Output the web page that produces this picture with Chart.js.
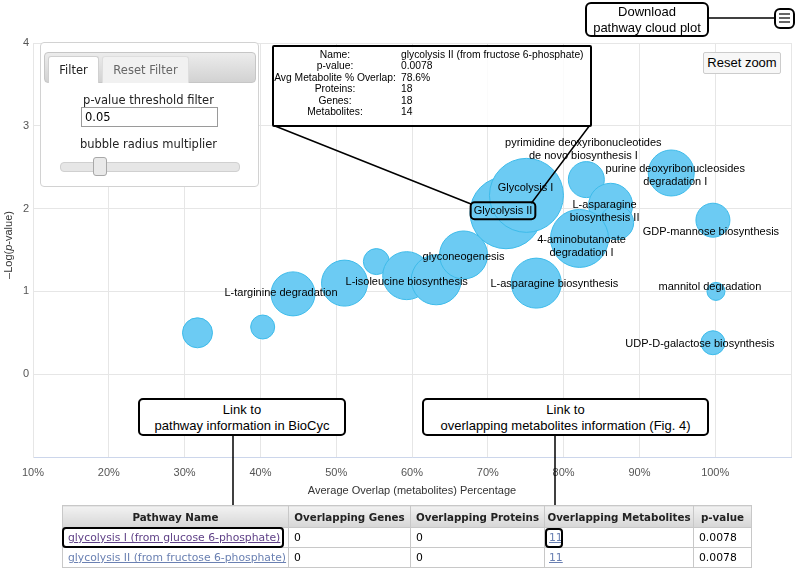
<!DOCTYPE html>
<html>
<head>
<meta charset="utf-8">
<script src="https://cdn.jsdelivr.net/npm/chart.js@4.4.1/dist/chart.umd.min.js"></script>
<style>
html,body{margin:0;padding:0;background:#fff;}
#wrap{position:relative;width:800px;height:570px;overflow:hidden;font-family:'Liberation Sans',Arial,sans-serif;}
#c{position:absolute;left:0;top:0;}
.abs{position:absolute;box-sizing:border-box;}
.dv{font-family:'DejaVu Sans',Verdana,sans-serif;font-size:11.5px;}
.tab{line-height:26px;text-align:center;}
.call{border:2px solid #000;border-radius:6px;background:#fff;text-align:center;font-size:13px;line-height:16px;color:#000;}
#tip table{border-collapse:collapse;font-size:10.3px;line-height:11.4px;margin-top:2px;}
#tip td{padding:0;white-space:nowrap;}
#tip td.k{width:122px;text-align:center;}
#tip td.v{padding-left:5px;}
#tbl{position:absolute;left:62px;top:505px;width:689px;border-collapse:collapse;table-layout:fixed;font-family:'DejaVu Sans',Verdana,sans-serif;font-size:10.8px;color:#000;}
#tbl th,#tbl td{border:1px solid #c8c8c8;padding:0 0 0 5px;white-space:nowrap;overflow:hidden;text-align:left;}
#tbl th{height:21px;background:linear-gradient(#f2f2f2,#d6d6d6);font-size:10.3px;font-weight:bold;text-align:center;padding:0;color:#222;}
#tbl td{height:19px;background:#fff;}
.l1{color:#5e3f86;text-decoration:underline;}
.l2{color:#6a80b2;text-decoration:underline;}
.hl{border:2px solid #000;border-radius:4px;}
</style>
</head>
<body>
<div id="wrap">
<canvas id="c" width="800" height="570"></canvas>

<!-- filter panel -->
<div class="abs" style="left:40px;top:42px;width:219px;height:145px;border:1px solid #d2d2d2;border-radius:4px;background:#fff;"></div>
<div class="abs" style="left:44px;top:52px;width:212px;height:31px;border:1px solid #c6c6c6;border-radius:4px;background:linear-gradient(#ececec,#d2d2d2);"></div>
<div class="abs tab dv" style="left:48px;top:56px;width:51px;height:27px;background:#fff;border:1px solid #d0d0d0;border-bottom:none;border-radius:3px 3px 0 0;color:#222;">Filter</div>
<div class="abs tab dv" style="left:102px;top:56px;width:87px;height:27px;background:#f1f1f1;border:1px solid #dedede;border-bottom:none;border-radius:3px 3px 0 0;color:#666;">Reset Filter</div>
<div class="abs dv" style="left:40px;top:93px;width:217px;text-align:center;color:#222;">p-value threshold filter</div>
<div class="abs dv" style="left:81px;top:107px;width:137px;height:20px;border:1px solid #9a9a9a;padding-left:3px;line-height:18px;color:#000;">0.05</div>
<div class="abs dv" style="left:40px;top:137px;width:217px;text-align:center;color:#222;">bubble radius multiplier</div>
<div class="abs" style="left:60px;top:162px;width:180px;height:10px;border:1px solid #d0d0d0;border-radius:4px;background:#e6e6e6;"></div>
<div class="abs" style="left:93px;top:157px;width:14px;height:19px;border:1px solid #a8a8a8;border-radius:3px;background:#e9e9e9;"></div>

<!-- tooltip -->
<div class="abs" id="tip" style="left:272px;top:45px;width:320px;height:82px;border:2px solid #000;border-radius:2px;background:rgba(255,255,255,0.82);">
<table>
<tr><td class="k">Name:</td><td class="v">glycolysis II (from fructose 6-phosphate)</td></tr>
<tr><td class="k">p-value:</td><td class="v">0.0078</td></tr>
<tr><td class="k">Avg Metabolite % Overlap:</td><td class="v">78.6%</td></tr>
<tr><td class="k">Proteins:</td><td class="v">18</td></tr>
<tr><td class="k">Genes:</td><td class="v">18</td></tr>
<tr><td class="k">Metabolites:</td><td class="v">14</td></tr>
</table>
</div>

<!-- reset zoom -->
<div class="abs" style="left:703px;top:52px;width:78px;height:22px;border:1px solid #cccccc;border-radius:2px;background:#f7f7f7;font-size:13px;line-height:20px;text-align:center;color:#000;">Reset zoom</div>

<!-- callout connectors -->
<svg class="abs" width="800" height="570" style="left:0;top:0;pointer-events:none;">
<line x1="708" y1="18" x2="775" y2="18" stroke="#000" stroke-width="1.5"/>
<line x1="233" y1="436" x2="233" y2="527" stroke="#000" stroke-width="1.5"/>
<line x1="555" y1="436" x2="555" y2="528" stroke="#000" stroke-width="1.5"/>
</svg>
<div class="abs call" style="left:585px;top:2px;width:124px;height:35px;">Download<br>pathway cloud plot</div>
<div class="abs" style="left:774px;top:8px;width:21px;height:21px;border:2px solid #000;border-radius:6px;background:#fff;"></div>
<div class="abs" style="left:779px;top:13px;width:11px;height:2px;background:#666;"></div>
<div class="abs" style="left:779px;top:17px;width:11px;height:2px;background:#666;"></div>
<div class="abs" style="left:779px;top:21px;width:11px;height:2px;background:#666;"></div>

<!-- link callouts -->
<div class="abs call" style="left:138px;top:398px;width:208px;height:38px;padding-top:2px;border-radius:5px;">Link to<br>pathway information in BioCyc</div>
<div class="abs call" style="left:422px;top:398px;width:287px;height:38px;padding-top:2px;border-radius:5px;">Link to<br>overlapping metabolites information (Fig. 4)</div>

<!-- table -->
<table id="tbl">
<colgroup><col style="width:226px"><col style="width:122px"><col style="width:134px"><col style="width:149px"><col style="width:58px"></colgroup>
<tr><th>Pathway Name</th><th>Overlapping Genes</th><th>Overlapping Proteins</th><th>Overlapping Metabolites</th><th>p-value</th></tr>
<tr><td><span class="l1">glycolysis I (from glucose 6-phosphate)</span></td><td>0</td><td>0</td><td style="padding-left:4px"><span class="l2">11</span></td><td>0.0078</td></tr>
<tr><td><span class="l2">glycolysis II (from fructose 6-phosphate)</span></td><td>0</td><td>0</td><td style="padding-left:4px"><span class="l2">11</span></td><td>0.0078</td></tr>
</table>
<div class="abs hl" style="left:62px;top:527px;width:222px;height:21px;"></div>
<div class="abs hl" style="left:545px;top:528px;width:18px;height:20px;"></div>
</div>

<script>
// ---- data ----
const overlapPct = [31.7, 40.3, 44.3, 51.1, 55.3, 59.3, 63.2, 66.8, 76.4, 72.4, 75.1, 83.0, 86.2, 87.0, 82.1, 94.2, 99.7, 100.1, 99.7];
const negLogP    = [0.50, 0.57, 0.97, 1.10, 1.36, 1.19, 1.14, 1.44, 1.10, 1.95, 2.16, 2.35, 2.04, 1.83, 1.64, 2.43, 1.86, 1.00, 0.38];
const bubbleSize = [15, 12, 22, 23, 13, 24, 25, 24, 25, 36, 37, 18, 22, 17, 29, 23, 17, 9, 12];
const pathwayLabels = [
  '', '', 'L-targinine degradation', '', '', 'L-isoleucine biosynthesis', '', 'glyconeogenesis',
  'L-asparagine biosynthesis', 'Glycolysis II', 'Glycolysis I',
  'pyrimidine deoxyribonucleotides\nde novo biosynthesis I', 'L-asparagine\nbiosynthesis II', '',
  '4-aminobutanoate\ndegradation I', 'purine deoxyribonucleosides\ndegradation I',
  'GDP-mannose biosynthesis', 'mannitol degradation', 'UDP-D-galactose biosynthesis'
];
const xTickValues = [10, 20, 30, 40, 50, 60, 70, 80, 90, 100];
const yTickValues = [0, 1, 2, 3, 4];
const highlighted = 'Glycolysis II';

// ---- label layout (pixel nudges, not data) ----
const labelNudge = {2:[-12,-1],5:[0,6],7:[0,2],8:[18,1],9:[-3,-2],10:[-1,-7],11:[-3,-30],12:[-6,6.5],14:[2,8],15:[4,2],16:[-2,12],17:[-6,-4],18:[-13,1]};
const FONT = "'Liberation Sans', Arial, sans-serif";
Chart.defaults.font.family = FONT;

const labelPlugin = {
  id: 'bubbleLabels',
  afterDatasetsDraw(chart) {
    const ctx = chart.ctx;
    const meta = chart.getDatasetMeta(0);
    ctx.save();
    ctx.font = '11px ' + FONT;
    ctx.fillStyle = '#000';
    ctx.textAlign = 'center';
    ctx.textBaseline = 'middle';
    let box = null;
    pathwayLabels.forEach((txt, i) => {
      if (!txt) return;
      const el = meta.data[i];
      const n = labelNudge[i] || [0, 0];
      const cx = el.x + n[0], cy = el.y + n[1];
      const lines = txt.split('\n');
      lines.forEach((ln, k) => ctx.fillText(ln, cx, cy + (k - (lines.length - 1) / 2) * 13));
      if (txt === highlighted) {
        const w = ctx.measureText(txt).width + 6;
        box = {x0: cx - w / 2, x1: cx + w / 2, y0: cy - 8.5, y1: cy + 8.5};
      }
    });
    if (box) {
      ctx.lineWidth = 2;
      ctx.strokeStyle = '#000';
      ctx.beginPath();
      ctx.roundRect(box.x0, box.y0, box.x1 - box.x0, box.y1 - box.y0, 4);
      ctx.stroke();
      ctx.lineWidth = 1.5;
      ctx.beginPath();
      ctx.moveTo(275, 126); ctx.lineTo(box.x0 + 1, box.y0 + 2);
      ctx.moveTo(590, 125); ctx.lineTo(box.x1 - 4, box.y0 + 1);
      ctx.stroke();
    }
    ctx.restore();
  },
  afterDraw(chart) {
    const ctx = chart.ctx;
    const a = chart.chartArea;
    ctx.save();
    ctx.translate(9, (a.top + a.bottom) / 2 - 5);
    ctx.rotate(-Math.PI / 2);
    ctx.fillStyle = '#333';
    ctx.textBaseline = 'middle';
    const parts = [['–Log(', ''], ['p', 'italic '], ['-value)', '']];
    let total = 0;
    parts.forEach(p => { ctx.font = p[1] + '11px ' + FONT; total += ctx.measureText(p[0]).width; });
    let x = -total / 2;
    parts.forEach(p => { ctx.font = p[1] + '11px ' + FONT; ctx.textAlign = 'left'; ctx.fillText(p[0], x, 0); x += ctx.measureText(p[0]).width; });
    ctx.restore();
  }
};

new Chart(document.getElementById('c'), {
  type: 'bubble',
  data: {
    datasets: [{
      data: overlapPct.map((x, i) => ({x: x, y: negLogP[i], r: bubbleSize[i]})),
      backgroundColor: '#6ccbf3',
      borderColor: '#3dbbea',
      borderWidth: 1
    }]
  },
  options: {
    responsive: false,
    animation: false,
    devicePixelRatio: 1,
    events: [],
    layout: {autoPadding: false, padding: {left: 0, top: 43, right: 7, bottom: 63}},
    plugins: {legend: {display: false}, tooltip: {enabled: false}},
    scales: {
      x: {
        type: 'linear', min: 10, max: 110,
        afterFit(s) { s.height = 50; },
        grid: {color: '#e6e6e6', drawTicks: false},
        border: {color: '#ccd6eb'},
        ticks: {stepSize: 10, padding: 9, color: '#555', font: {size: 11}, maxRotation: 0, autoSkip: false,
          callback: v => xTickValues.includes(v) ? v + '%' : ''},
        title: {display: true, text: 'Average Overlap (metabolites) Percentage', color: '#333', font: {size: 11}, padding: {top: 0, bottom: 9}}
      },
      y: {
        type: 'linear', min: -1, max: 4,
        afterFit(s) { s.width = 33; },
        grid: {color: '#e6e6e6', drawTicks: false},
        border: {color: '#e6e6e6'},
        ticks: {stepSize: 1, padding: 4, color: '#555', font: {size: 11},
          callback: v => yTickValues.includes(v) ? String(v) : ''}
      }
    }
  },
  plugins: [labelPlugin]
});
</script>
</body>
</html>
